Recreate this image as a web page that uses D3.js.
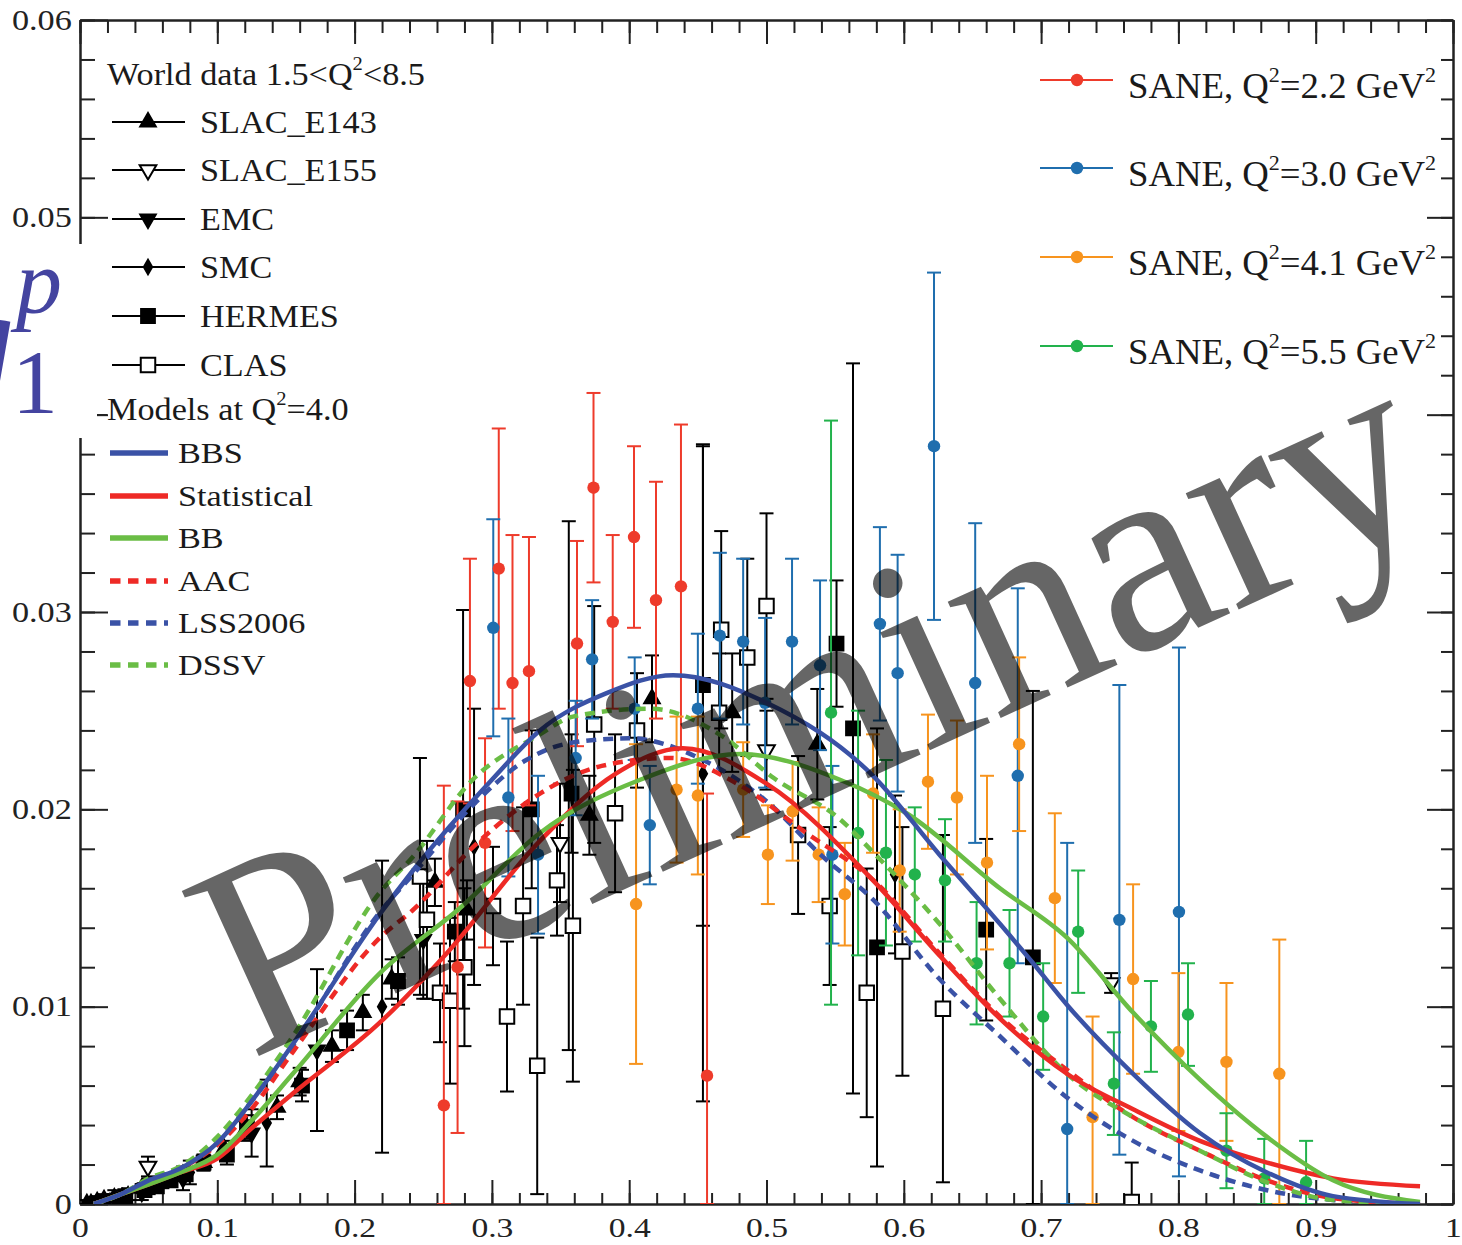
<!DOCTYPE html>
<html><head><meta charset="utf-8">
<script src="https://cdn.jsdelivr.net/npm/d3@7"></script>
<style>body{margin:0;background:#fff}svg{display:block}text{font-family:"Liberation Serif","Times New Roman",serif}</style>
</head><body><svg id="c" width="1462" height="1245"></svg>
<script>
// ---------- axis ticks ----------
const xMajorTicks = [0,0.1,0.2,0.3,0.4,0.5,0.6,0.7,0.8,0.9,1];
const xTickLabels = ["0","0.1","0.2","0.3","0.4","0.5","0.6","0.7","0.8","0.9","1"];
const yMajorTicks = [0,0.01,0.02,0.03,0.04,0.05,0.06];
const yTickLabels = ["0","0.01","0.02","0.03","","0.05","0.06"];

// ---------- model curves at Q^2 = 4.0 : [x, g1] ----------
const modelBBS = [[0.01,0],[0.03,0.0005],[0.05,0.0012],[0.073,0.0018],[0.1,0.0031],[0.126,0.0053],[0.155,0.0081],[0.2185,0.0147],[0.2425,0.0169],[0.30,0.0215],[0.335,0.0240],[0.384,0.0259],[0.432,0.0268],[0.5,0.0254],[0.5776,0.0217],[0.626,0.0177],[0.670,0.0142],[0.693,0.0123],[0.7188,0.0101],[0.767,0.0066],[0.8157,0.0036],[0.8645,0.0016],[0.9126,0.0004],[0.976,0.0000]];
const modelStat = [[0.01,0],[0.03,0.0005],[0.05,0.0010],[0.073,0.0016],[0.1,0.0023],[0.126,0.0039],[0.155,0.0056],[0.2185,0.0092],[0.267,0.0127],[0.335,0.0184],[0.39,0.0218],[0.439,0.0231],[0.5,0.0213],[0.5776,0.0164],[0.626,0.0126],[0.670,0.0094],[0.7188,0.0066],[0.767,0.0048],[0.8157,0.0032],[0.8645,0.0021],[0.9126,0.0013],[0.976,0.0009]];
const modelBB = [[0.01,0],[0.03,0.0005],[0.05,0.0010],[0.073,0.0016],[0.1,0.0025],[0.126,0.0043],[0.155,0.0066],[0.2185,0.0117],[0.2768,0.0150],[0.335,0.0188],[0.408,0.0215],[0.481,0.0228],[0.5535,0.0215],[0.602,0.0198],[0.670,0.0160],[0.7188,0.0135],[0.767,0.0097],[0.8157,0.0063],[0.8645,0.0034],[0.9126,0.0012],[0.976,0.0001]];
const modelAAC = [[0.01,0],[0.03,0.0005],[0.05,0.0012],[0.073,0.0018],[0.1,0.0030],[0.126,0.0049],[0.155,0.0077],[0.2185,0.0135],[0.2425,0.0149],[0.291,0.0184],[0.335,0.0208],[0.38,0.0222],[0.43,0.0226],[0.481,0.0212],[0.529,0.0188],[0.578,0.0164],[0.626,0.0127],[0.670,0.0095],[0.7188,0.0068],[0.767,0.0044],[0.8157,0.0027],[0.8645,0.0012],[0.9126,0.0003],[0.976,0]];
const modelLSS = [[0.01,0],[0.03,0.0005],[0.05,0.0012],[0.073,0.0018],[0.1,0.0031],[0.126,0.0053],[0.155,0.0080],[0.2185,0.0148],[0.2425,0.0167],[0.286,0.0202],[0.325,0.0225],[0.36,0.0234],[0.40,0.0236],[0.4567,0.0224],[0.4985,0.0205],[0.541,0.0176],[0.578,0.0154],[0.626,0.0114],[0.670,0.0085],[0.7188,0.0054],[0.767,0.0032],[0.8157,0.0017],[0.8645,0.0007],[0.9126,0.0002],[0.976,0]];
const modelDSSV = [[0.01,0],[0.03,0.0005],[0.05,0.0013],[0.073,0.0019],[0.1,0.0034],[0.126,0.0056],[0.155,0.0085],[0.2185,0.0158],[0.2425,0.0176],[0.286,0.0215],[0.335,0.0238],[0.359,0.0247],[0.415,0.0251],[0.468,0.0237],[0.505,0.0216],[0.5535,0.0195],[0.578,0.0178],[0.626,0.0142],[0.670,0.0104],[0.7188,0.0066],[0.767,0.0044],[0.8157,0.0027],[0.8645,0.0011],[0.9126,0.0002],[0.976,0]];

// ---------- SANE data : [x, g1, error] ----------
const saneQ22 = [[0.265,0.0050,0.0162],[0.275,0.0120,0.0084],[0.284,0.0265,0.0062],[0.295,0.0183,0.0053],[0.305,0.0322,0.0071],[0.315,0.0264,0.0075],[0.327,0.0270,0.0068],[0.362,0.0284,0.0052],[0.374,0.0363,0.0048],[0.388,0.0295,0.0044],[0.4035,0.0338,0.0046],[0.4195,0.0306,0.0060],[0.4377,0.0313,0.0082],[0.4567,0.0065,0.0143]];
const saneQ30 = [[0.301,0.0292,0.0055],[0.312,0.0206,0.0040],[0.3336,0.0177,0.0040],[0.361,0.0226,0.0029],[0.373,0.0276,0.0030],[0.404,0.0251,0.0026],[0.415,0.0192,0.0030],[0.450,0.0251,0.0038],[0.466,0.0288,0.0042],[0.483,0.0285,0.0042],[0.499,0.0254,0.0043],[0.5186,0.0285,0.0042],[0.539,0.0273,0.0043],[0.548,0.0177,0.0045],[0.5826,0.0294,0.0049],[0.5955,0.0269,0.0060],[0.622,0.0384,0.0088],[0.652,0.0264,0.0081],[0.683,0.0217,0.0095],[0.719,0.0038,0.0145],[0.757,0.0144,0.0119],[0.8004,0.0148,0.0134]];
const saneQ41 = [[0.405,0.0152,0.0081],[0.4345,0.0210,0.0037],[0.450,0.0207,0.0040],[0.483,0.0210,0.0024],[0.501,0.0177,0.0025],[0.519,0.0199,0.0025],[0.538,0.0177,0.0024],[0.557,0.0157,0.0026],[0.5776,0.0208,0.0030],[0.597,0.0169,0.0031],[0.6176,0.0214,0.0034],[0.6387,0.0206,0.0039],[0.6606,0.0173,0.0044],[0.684,0.0233,0.0044],[0.710,0.0155,0.0043],[0.7375,0.0044,0.0051],[0.767,0.0114,0.0048],[0.800,0.0077,0.0040],[0.835,0.0072,0.0040],[0.8735,0.0066,0.0068]];
const saneQ55 = [[0.547,0.0249,0.0148],[0.5667,0.0188,0.0062],[0.587,0.0178,0.0047],[0.608,0.0167,0.0034],[0.630,0.0164,0.0031],[0.653,0.0122,0.0031],[0.677,0.0122,0.0027],[0.7015,0.0095,0.0027],[0.727,0.0138,0.0031],[0.753,0.0061,0.0026],[0.780,0.0090,0.0023],[0.807,0.0096,0.0026],[0.835,0.0027,0.0019],[0.8625,0.0013,0.0020],[0.893,0.0011,0.0021]];

// ---------- world data 1.5<Q^2<8.5 : [x, g1, error] ----------
const slacE143 = [[0.031,0.0003,0.0002],[0.045,0.0008,0.0002],[0.06,0.0011,0.0003],[0.075,0.0015,0.0003],[0.09,0.0021,0.0004],[0.105,0.0028,0.0004],[0.12,0.0037,0.0005],[0.1435,0.0049,0.0006],[0.16,0.0062,0.0007],[0.1835,0.0080,0.0008],[0.206,0.0097,0.0009],[0.227,0.0114,0.0010],[0.2585,0.0163,0.0012],[0.2818,0.0149,0.0015],[0.371,0.0197,0.0020],[0.4166,0.0256,0.0022],[0.475,0.0249,0.0030],[0.537,0.0233,0.0028]];
const slacE155 = [[0.0495,0.0019,0.0005],[0.3496,0.0183,0.0030],[0.5,0.0230,0.0020],[0.751,0.0112,0.0005]];
const emc = [[0.011,0.0001,0.0002],[0.018,0.0002,0.0002],[0.028,0.0003,0.0003],[0.045,0.0006,0.0004],[0.075,0.0013,0.0006],[0.125,0.0036,0.0012],[0.1726,0.0078,0.0041],[0.25,0.0134,0.0030]];
const smc = [[0.005,0.0001,0.0001],[0.008,0.0001,0.0001],[0.0125,0.0002,0.0002],[0.0175,0.0003,0.0002],[0.025,0.0004,0.0003],[0.035,0.0005,0.0003],[0.05,0.0009,0.0004],[0.08,0.0016,0.0006],[0.136,0.0041,0.0022],[0.22,0.0100,0.0074],[0.287,0.0181,0.0070],[0.356,0.0212,0.0134],[0.4537,0.0218,0.0166],[0.5936,0.0167,0.0040]];
const hermes = [[0.033,0.0004,0.0002],[0.047,0.0007,0.0002],[0.056,0.0009,0.0003],[0.066,0.0012,0.0003],[0.077,0.0015,0.0003],[0.09,0.0021,0.0004],[0.107,0.0025,0.0005],[0.1216,0.0039,0.0006],[0.1617,0.0060,0.0008],[0.1945,0.0088,0.0010],[0.2316,0.0113,0.0012],[0.273,0.0138,0.0015],[0.279,0.0200,0.0101],[0.329,0.0200,0.0040],[0.358,0.0208,0.0030],[0.4537,0.0263,0.0122],[0.551,0.0284,0.0032],[0.563,0.0241,0.0185],[0.5805,0.0130,0.0111],[0.660,0.0139,0.0046],[0.694,0.0125,0.0135]];
const clas = [[0.2476,0.0166,0.0060],[0.2527,0.0144,0.0040],[0.2622,0.0107,0.0025],[0.2695,0.0103,0.0042],[0.280,0.0120,0.0040],[0.3008,0.0151,0.0030],[0.311,0.0095,0.0038],[0.3227,0.0151,0.0050],[0.333,0.0070,0.0065],[0.3474,0.0164,0.0028],[0.359,0.0141,0.0079],[0.3745,0.0243,0.0060],[0.3897,0.0198,0.0040],[0.4057,0.0240,0.0029],[0.4655,0.0249,0.0030],[0.467,0.0291,0.0050],[0.486,0.0277,0.0050],[0.5,0.0303,0.0047],[0.523,0.0187,0.0040],[0.546,0.0151,0.0040],[0.573,0.0107,0.0063],[0.599,0.0128,0.0063],[0.6285,0.0099,0.0088],[0.766,0.0001,0.0020]];

// ---------- legends ----------
const worldLegend = ["SLAC_E143","SLAC_E155","EMC","SMC","HERMES","CLAS"];
const modelLegend = ["BBS","Statistical","BB","AAC","LSS2006","DSSV"];
const saneLegend = ["2.2","3.0","4.1","5.5"];

// ================= drawing =================
const svg = d3.select("#c");
const x = d3.scaleLinear().domain([0,1]).range([80,1453]);
const y = d3.scaleLinear().domain([0,0.06]).range([1204,20]);
const AX = "#222";
const xMinor = d3.range(0,51).map(i=>i/50);
const yMinor = d3.range(0,31).map(i=>i/500);

function styleAxis(g){
  g.selectAll("path,line").attr("stroke",AX).attr("stroke-width",2);
  g.attr("font-family",null).attr("font-size",null);
}
// bottom
svg.append("g").attr("transform","translate(0,1204)")
  .call(d3.axisBottom(x).tickValues(xMinor).tickSize(-11).tickSizeOuter(0).tickFormat("")).call(styleAxis);
const bx = svg.append("g").attr("transform","translate(0,1204)")
  .call(d3.axisBottom(x).tickValues(xMajorTicks).tickSize(-24).tickSizeOuter(0).tickPadding(13).tickFormat((d,i)=>xTickLabels[i])).call(styleAxis);
bx.selectAll("text").attr("font-size",28).attr("fill","#222").attr("transform","scale(1.2,1)");
// top
svg.append("g").attr("transform","translate(0,20)")
  .call(d3.axisTop(x).tickValues(xMinor).tickSize(-13).tickSizeOuter(0).tickFormat("")).call(styleAxis);
svg.append("g").attr("transform","translate(0,20)")
  .call(d3.axisTop(x).tickValues(xMajorTicks).tickSize(-24).tickSizeOuter(0).tickFormat("")).call(styleAxis);
// left
svg.append("g").attr("transform","translate(80,0)")
  .call(d3.axisLeft(y).tickValues(yMinor).tickSize(-15).tickSizeOuter(0).tickFormat("")).call(styleAxis);
const ly = svg.append("g").attr("transform","translate(80,0)")
  .call(d3.axisLeft(y).tickValues(yMajorTicks).tickSize(-28).tickSizeOuter(0).tickPadding(7).tickFormat((d,i)=>yTickLabels[i])).call(styleAxis);
ly.selectAll("text").attr("font-size",29).attr("fill","#222").attr("transform","scale(1.18,1)");
// right
svg.append("g").attr("transform","translate(1453,0)")
  .call(d3.axisRight(y).tickValues(yMinor).tickSize(-12).tickSizeOuter(0).tickFormat("")).call(styleAxis);
svg.append("g").attr("transform","translate(1453,0)")
  .call(d3.axisRight(y).tickValues(yMajorTicks).tickSize(-26).tickSizeOuter(0).tickFormat("")).call(styleAxis);

// white patch over left axis (as in reference)
svg.append("rect").attr("x",0).attr("y",244).attr("width",97).attr("height",194).attr("fill","#fff");

// y label g1^p (partially cut, as in reference)
const lab = svg.append("g").attr("fill","#4444a0");
lab.append("text").attr("x",14).attr("y",378).attr("text-anchor","end").attr("font-size",125).attr("font-style","italic").text("g");
lab.append("text").attr("x",16).attr("y",313).attr("font-size",92).attr("font-style","italic").text("p");
lab.append("text").attr("x",12).attr("y",413).attr("font-size",92).text("1");

// clip
svg.append("clipPath").attr("id","pc").append("rect").attr("x",80).attr("y",20).attr("width",1373).attr("height",1184);
const plot = svg.append("g").attr("clip-path","url(#pc)");

function errBars(g, data, color, cap){
  const gg = g.append("g").attr("stroke",color).attr("stroke-width",2);
  gg.selectAll("line.v").data(data).join("line").attr("class","v")
    .attr("x1",d=>x(d[0])).attr("x2",d=>x(d[0]))
    .attr("y1",d=>y(Math.max(0,d[1]-d[2]))).attr("y2",d=>y(Math.min(0.06,d[1]+d[2])));
  gg.selectAll("line.t").data(data).join("line").attr("class","t")
    .attr("x1",d=>x(d[0])-cap).attr("x2",d=>x(d[0])+cap)
    .attr("y1",d=>y(Math.min(0.06,d[1]+d[2]))).attr("y2",d=>y(Math.min(0.06,d[1]+d[2])));
  gg.selectAll("line.b").data(data).join("line").attr("class","b")
    .attr("x1",d=>x(d[0])-cap).attr("x2",d=>x(d[0])+cap)
    .attr("y1",d=>y(Math.max(0,d[1]-d[2]))).attr("y2",d=>y(Math.max(0,d[1]-d[2])));
}
const symDefs = {
  triUp:{p:d3.symbol().type(d3.symbolTriangle).size(105)(), rot:0, fill:"#000"},
  triDownOpen:{p:d3.symbol().type(d3.symbolTriangle).size(120)(), rot:180, fill:"#fff"},
  triDown:{p:d3.symbol().type(d3.symbolTriangle).size(105)(), rot:180, fill:"#000"},
  diamond:{p:d3.symbol().type(d3.symbolDiamond).size(60)(), rot:0, fill:"#000"},
  square:{p:d3.symbol().type(d3.symbolSquare).size(190)(), rot:0, fill:"#000"},
  squareOpen:{p:d3.symbol().type(d3.symbolSquare).size(210)(), rot:0, fill:"#fff"}
};
function markers(g, data, key){
  const s = symDefs[key];
  g.append("g").selectAll("path").data(data).join("path")
    .attr("d",s.p).attr("fill",s.fill).attr("stroke","#000").attr("stroke-width",2)
    .attr("transform",d=>`translate(${x(d[0])},${y(d[1])}) rotate(${s.rot})`);
}
const worldSets = [[slacE143,"triUp"],[slacE155,"triDownOpen"],[emc,"triDown"],[smc,"diamond"],[hermes,"square"],[clas,"squareOpen"]];
worldSets.forEach(([d])=>errBars(plot,d,"#000",7));
worldSets.forEach(([d,k])=>markers(plot,d,k));

const saneColors = ["#ee3b2b","#1f6eae","#f7941e","#22b24c"];
const saneSets = [saneQ22,saneQ30,saneQ41,saneQ55];
saneSets.forEach((d,i)=>errBars(plot,d,saneColors[i],7));
saneSets.forEach((d,i)=>{
  plot.append("g").selectAll("circle").data(d).join("circle")
    .attr("cx",p=>x(p[0])).attr("cy",p=>y(p[1])).attr("r",6.2).attr("fill",saneColors[i]);
});

// curves
const line = d3.line().x(d=>x(d[0])).y(d=>y(d[1])).curve(d3.curveMonotoneX);
const modelColors = {blue:"#3a52a6",red:"#ee2a26",green:"#6abd45"};
const curves = [
  [modelLSS,modelColors.blue,true],[modelAAC,modelColors.red,true],[modelDSSV,modelColors.green,true],
  [modelStat,modelColors.red,false],[modelBB,modelColors.green,false],[modelBBS,modelColors.blue,false]
];
curves.forEach(([d,c,dash])=>{
  plot.append("path").attr("d",line(d)).attr("fill","none").attr("stroke",c)
    .attr("stroke-width",4.5).attr("stroke-dasharray",dash?"10,7":null);
});

// watermark
svg.append("text").attr("transform","translate(250,1060) rotate(-24.5)")
  .attr("font-size",278).attr("fill","#000").attr("fill-opacity",0.6).text("Preliminary");

// ---------- legends ----------
function supText(g, x0, y0, fs, sx, parts){
  const t = g.append("g").attr("transform",`translate(${x0},${y0}) scale(${sx},1)`)
    .append("text").attr("font-size",fs).attr("fill","#1a1a1a");
  let raised = false;
  parts.forEach(([s,sup])=>{
    const ts = t.append("tspan").text(s);
    if(sup && !raised){ ts.attr("dy",-0.46*fs).attr("font-size",fs*0.6); raised=true; }
    else if(!sup && raised){ ts.attr("dy",0.46*fs); raised=false; }
  });
}
const leg = svg.append("g");
supText(leg,107,85,32,1.07,[["World data 1.5<Q"],["2",true],["<8.5"]]);
const wKeys = ["triUp","triDownOpen","triDown","diamond","square","squareOpen"];
const wY = [122,170,219,267,316,365];
worldLegend.forEach((name,i)=>{
  leg.append("line").attr("x1",112).attr("x2",185).attr("y1",wY[i]).attr("y2",wY[i]).attr("stroke","#000").attr("stroke-width",2);
  const s = symDefs[wKeys[i]];
  leg.append("path").attr("d",s.p).attr("fill",s.fill).attr("stroke","#000").attr("stroke-width",2)
    .attr("transform",`translate(148,${wY[i]}) rotate(${s.rot})`);
  supText(leg,200,wY[i]+10.5,32,1.07,[[name]]);
});
leg.append("line").attr("x1",97).attr("x2",107).attr("y1",415).attr("y2",415).attr("stroke",AX).attr("stroke-width",2);
supText(leg,107,420,32,1.07,[["Models at Q"],["2",true],["=4.0"]]);
const mY = [453,496,538,581,623,665];
const mStyle = [[modelColors.blue,false],[modelColors.red,false],[modelColors.green,false],[modelColors.red,true],[modelColors.blue,true],[modelColors.green,true]];
modelLegend.forEach((name,i)=>{
  leg.append("line").attr("x1",110).attr("x2",168).attr("y1",mY[i]).attr("y2",mY[i])
    .attr("stroke",mStyle[i][0]).attr("stroke-width",5.5).attr("stroke-dasharray",mStyle[i][1]?"10.5,7.5":null);
  supText(leg,178,mY[i]+9.5,29,1.18,[[name]]);
});
const sY = [80,168,257,346];
saneLegend.forEach((q,i)=>{
  leg.append("line").attr("x1",1040).attr("x2",1113).attr("y1",sY[i]).attr("y2",sY[i]).attr("stroke",saneColors[i]).attr("stroke-width",2);
  leg.append("circle").attr("cx",1077).attr("cy",sY[i]).attr("r",6.2).attr("fill",saneColors[i]);
  supText(leg,1128,sY[i]+18,35,1.05,[["SANE, Q"],["2",true],["="+q+" GeV"],["2",true]]);
});
</script></body></html>
